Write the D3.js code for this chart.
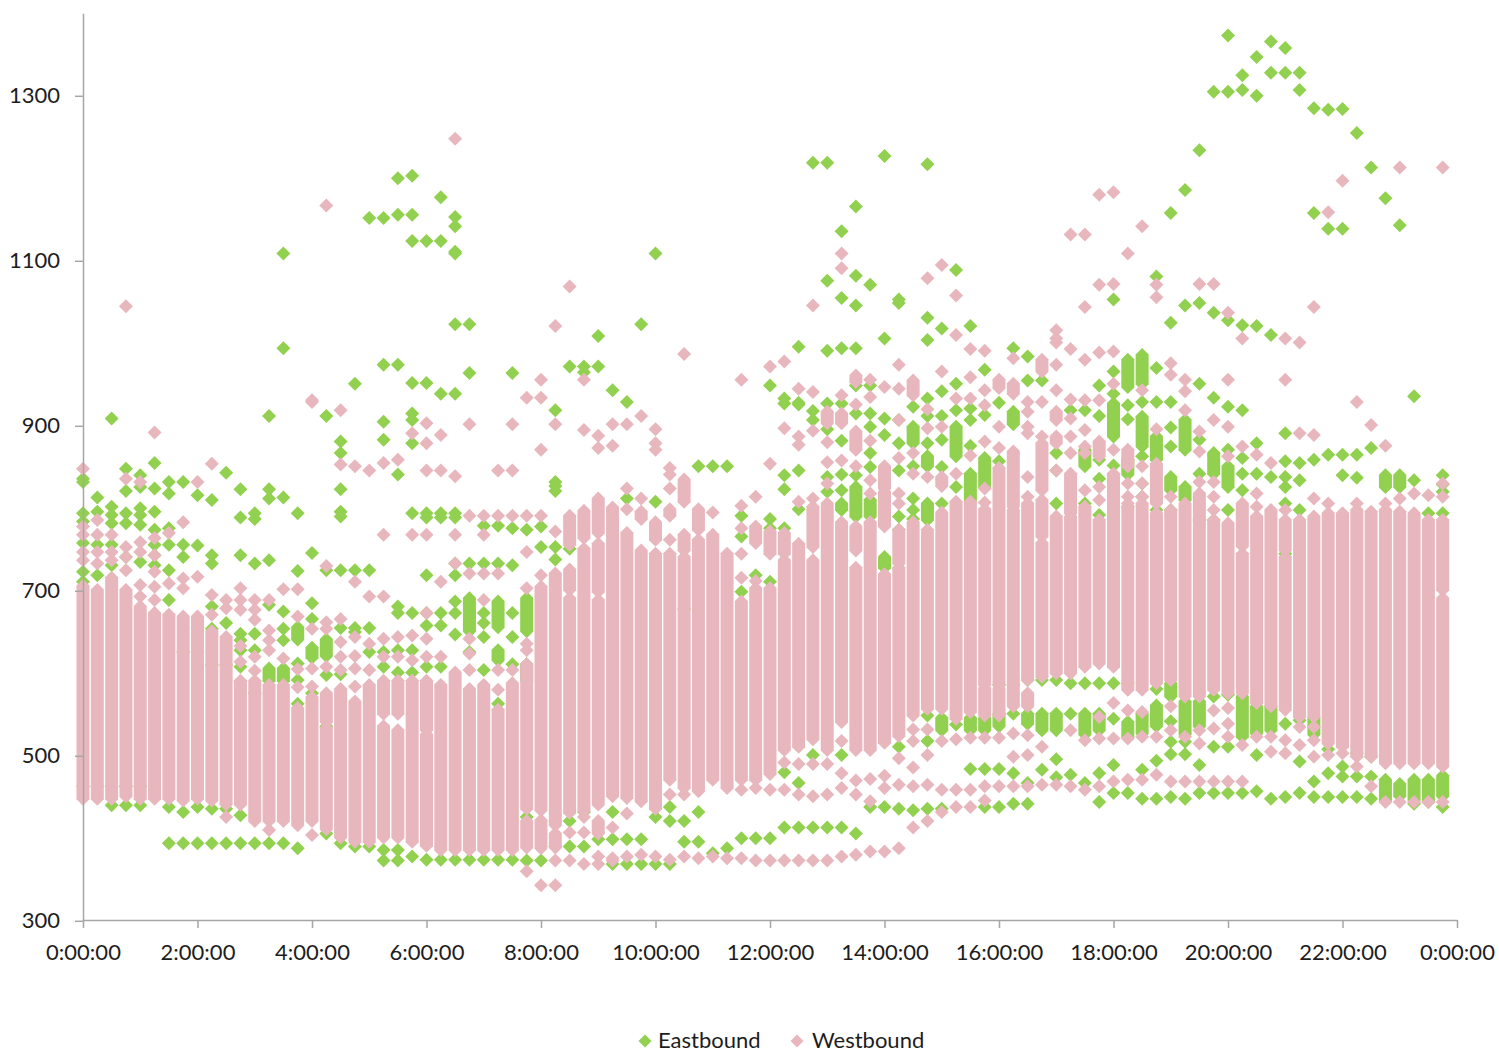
<!DOCTYPE html>
<html><head><meta charset="utf-8">
<script src="https://d3js.org/d3.v7.min.js"></script>
<style>html,body{margin:0;padding:0;background:#fff}svg{display:block}text{font-family:Lato,"Open Sans",sans-serif;fill:#1d1d1d}</style>
</head><body><svg id="c" width="1499" height="1053"></svg>
<script>
const yTicks=[300,500,700,900,1100,1300];
const xTickHours=[0,2,4,6,8,10,12,14,16,18,20,22,24];
const xTickLabels=["0:00:00","2:00:00","4:00:00","6:00:00","8:00:00","10:00:00","12:00:00","14:00:00","16:00:00","18:00:00","20:00:00","22:00:00","0:00:00"];
const seriesNames=["Eastbound","Westbound"];
// One row per 15-minute slot. A number is one readable point; a [low,high] pair is a solid run of overlapping points.
const eastbound=[
[835,831,793,783,757,722,710,462],
[812,795,755,718,462],
[908,801,791,781,755,730,462,439],
[847,820,793,781,740,462,439],
[839,825,799,791,779,734,462,439],
[854,823,795,773,755,742,730],
[831,817,775,755,724,688,437,393],
[831,755,740,625,431,393],
[815,754,655,625,437,393],
[809,742,732,680,653,609,435,393],
[842,660,609,435,393],
[822,788,742,647,639,627,607,427,393],
[793,786,732,647,627,575,393],
[911,822,811,736,682,[590,605],393],
[1108,993,812,674,653,639,[590,605],393],
[793,723,[640,655],611,591,562,387],
[745,684,665,[618,630],575],
[911,724,[620,640],597,535,405],
[880,866,822,795,789,724,654,598,393],
[950,724,654,649,389],
[1151,724,654,625,389],
[1151,973,904,882,625,607,385,372],
[1199,1155,973,840,680,672,627,600,385,372],
[1202,1155,1123,951,914,906,878,793,672,627,600,377],
[1123,951,793,788,718,672,657,607,373],
[1176,1123,938,793,788,672,657,607,373],
[1152,1141,1110,1108,1022,938,793,788,732,718,686,672,646,373],
[1022,963,732,[650,690],625,373],
[778,732,672,660,643,603,373],
[778,732,[655,686],[615,627],562,373],
[963,775,730,672,643,610,373],
[773,[650,690],[590,610],425,372],
[777,752,372],
[918,831,826,820,752,737,420,389],
[971,750,420,389],
[971,964,431,389],
[1008,971,398],
[942,431,398,368],
[928,811,398,368],
[1022,398,368],
[1108,807,425,368],
[437,420,368],
[677,420,395],
[850,431,395],
[850,381],
[850,387],
[790,765,698,399],
[718,399],
[948,786,775,710,399],
[932,926,839,822,775,479,412],
[995,927,925,845,798,466,412],
[1218,917,906,500,412],
[1218,1075,990,926,895,837,819,412],
[1135,1054,993,926,881,840,821,[797,805],500,412],
[1165,1081,1045,993,948,914,839,[789,825],405],
[1070,948,914,898,866,849,[789,809],437],
[1226,1005,908,888,[727,740],437],
[1052,1048,906,878,845,789,773,510,435],
[922,[878,898],850,811,797,786,433],
[1216,1030,1003,932,911,878,[850,862],[785,805],548,517,435],
[1017,941,911,882,849,805,[530,545],435],
[1088,950,918,[862,898],825,537],
[1020,920,906,875,[809,841],[530,545],483],
[967,912,[825,860],[530,545],483,437],
[927,856,585,[535,550],483,437],
[993,[901,916],585,550,478,441],
[983,954,591,[538,550],466,441],
[954,591,[530,550],482],
[866,845,805,591,[530,550],495,473],
[918,587,550,476],
[918,[850,870],805,587,[525,550],466],
[948,911,858,835,791,587,[530,550],478,443],
[1052,965,938,[886,926],851,587,544,488,454],
[[946,979],924,907,[840,858],801,587,[522,540],454],
[[950,985],928,[874,910],862,829,813,[526,550],482,447],
[1080,969,928,[858,886],797,580,[535,560],493,447],
[1157,1024,928,897,874,[821,837],797,[571,587],541,516,501,449],
[1185,1045,[870,906],[809,825],[525,565],516,501,447],
[1233,1048,950,882,841,785,[535,565],488,454],
[1304,1036,933,[841,866],785,571,510,454],
[1372,1304,1027,922,870,[825,850],797,573,510,454],
[1324,1306,1021,918,860,841,821,[522,571],454],
[1346,1299,1020,878,841,[526,559],500,456],
[1365,1327,1009,837,[530,559],447],
[1357,1327,890,856,837,825,805,744,538,449],
[1327,1306,854,833,797,542,492,454],
[1284,1157,858,[525,545],468,449],
[1282,1138,864,507,478,449],
[1283,1138,864,839,486,474,449],
[1254,864,836,502,474,449],
[1212,872,498,474,447],
[1175,[825,839],[445,470]],
[1142,[825,839],[450,465]],
[935,833,[445,470],441],
[793,[445,470],443],
[839,828,819,793,[450,475],437]
];
const westbound=[
[847,777,767,746,736,[447,705]],
[785,767,746,732,[447,700]],
[767,746,736,[447,715]],
[1044,835,752,740,724,[450,700]],
[831,758,746,706,692,[447,680]],
[891,763,742,722,704,688,[447,672]],
[769,708,[447,670]],
[782,714,702,[445,668]],
[831,716,[447,668]],
[853,694,670,[445,650]],
[688,678,[440,643],425],
[702,688,676,632,613,[440,590]],
[688,676,664,619,602,[420,590]],
[688,651,639,627,[420,585],409],
[701,617,[420,585]],
[701,668,604,582,[415,557]],
[930,928,653,605,583,[420,570],403],
[1166,729,661,653,607,[540,575],[410,533]],
[918,852,665,637,619,603,[400,580]],
[850,710,643,620,605,583,[395,565]],
[845,692,635,603,[395,585]],
[854,767,692,641,619,[550,590],[400,535]],
[858,643,619,[550,590],[400,530]],
[890,767,645,615,[395,590]],
[902,878,845,767,672,641,619,[530,590],[390,525]],
[888,845,710,619,[385,585]],
[1247,838,767,732,[385,600]],
[901,790,720,641,623,603,[385,580]],
[790,767,720,688,[385,585]],
[845,790,720,603,579,[385,555]],
[901,845,790,603,[385,587]],
[933,790,746,702,635,627,[435,610],[388,420],359],
[955,933,870,790,718,[433,704],[387,421],342],
[1020,901,771,[415,720],[388,405],372,342],
[1068,[755,790],[700,725],[430,690],406,372],
[955,894,[763,796],[432,750],425,406,368],
[887,872,[769,811],[698,756],[440,688],[405,420],377,368],
[901,875,[450,800],412,375,372],
[901,823,798,[448,769],429,377],
[911,811,[786,795],[444,748],379],
[895,878,870,[761,782],[435,744],377],
[848,840,823,[790,798],761,[470,744],452,373],
[986,[807,834],[748,767],[460,740],452,377],
[[773,798],[456,761],375],
[794,[470,767],377],
[[460,744],375],
[955,802,775,744,715,[470,686],458,375],
[813,[757,777],711,[470,702],460,372],
[971,853,[744,771],[477,702],458,372],
[977,896,[744,769],[506,736],491,458,372],
[944,886,876,807,[510,756],489,452,372],
[1045,940,893,811,[752,801],[519,736],489,450,372],
[[902,916],879,855,829,[506,805],489,452,372],
[1108,1090,936,[902,914],857,[540,782],517,478,460,377],
[[952,960],925,[870,892],850,[748,777],[506,727],469,452,379],
[955,934,881,833,817,[506,782],471,444,383],
[946,[823,850],[777,819],[515,719],475,460,383],
[973,944,906,860,817,805,[732,773],[523,727],496,464,387],
[[936,954],866,841,[548,782],531,517,485,462,412],
[1078,919,896,837,[556,773],531,500,464,420],
[1094,965,898,[826,837],[556,794],517,458,431],
[1057,1009,932,841,[544,807],519,458,437],
[992,958,932,863,[552,807],521,458,437],
[990,942,924,880,823,806,[585,798],[548,581],521,462,445],
[[945,955],898,872,[585,848],[548,581],521,462],
[981,[938,950],[801,868],[559,797],526,498,462],
[928,916,898,890,837,813,[591,805],[559,575],524,500,462],
[[965,979],928,886,[821,878],[595,757],[765,809],510,464],
[1015,1005,1000,973,942,[906,916],[878,886],845,[599,789],464],
[1131,992,931,908,886,866,[793,841],[599,789],530,462],
[1131,1043,979,930,894,874,866,821,[607,801],518,458],
[1179,1070,988,930,[862,880],825,809,[611,785],546,520,462],
[1182,1071,989,950,870,[607,841],563,520,468],
[1108,[850,870],829,813,805,[579,801],554,520,470],
[1141,942,850,829,813,[579,805],552,522,470],
[1070,1055,895,[805,853],[587,793],522,476],
[975,961,813,[591,797],559,530,468],
[955,941,918,[571,805],522,468],
[1071,892,868,831,[571,817],530,514,468],
[1071,906,831,813,797,[579,785],554,532,468],
[1036,955,898,862,[575,781],557,538,522,468],
[1005,874,[753,805],[575,744],512,468],
[864,817,801,[563,789],522],
[854,[559,797],522,504],
[1005,955,797,[748,785],[555,740],518,502],
[1000,890,[546,785],534,512],
[1043,888,811,[546,789],534,518,498],
[1158,805,[514,793],500],
[1196,[510,793],502],
[928,805,[498,797],486],
[900,[498,795],462],
[875,805,[490,797],443],
[1212,811,[490,795],443],
[817,[490,793],443],
[815,[490,785],443],
[1212,829,813,[700,785],[486,690],443]
];

const x=d3.scaleLinear().domain([0,24]).range([83,1457]);
const y=d3.scaleLinear().domain([300,1400]).range([920,12.5]);
const slotHour=i=>i/4;
const svg=d3.select("#c");
const rows=(data)=>data.flatMap((r,i)=>r.map(v=>Array.isArray(v)?{i,lo:v[0],hi:v[1]}:{i,lo:v,hi:v}));
const R=7;
function runPath(d,h){
  const cx=x(slotHour(d.i)),t=y(d.hi),b=y(d.lo),p=d3.path();
  p.moveTo(cx,t-R);p.lineTo(cx+h,t-R+h);p.lineTo(cx+h,b+R-h);p.lineTo(cx,b+R);
  p.lineTo(cx-h,b+R-h);p.lineTo(cx-h,t-R+h);p.closePath();return p.toString();
}
const colors=["#92D050","#E8B7BE"];
[eastbound,westbound].forEach((data,k)=>{
  svg.append("g").attr("class",seriesNames[k]).selectAll("path").data(rows(data)).join("path")
    .attr("d",d=>runPath(d,d.lo===d.hi?R:6.5)).attr("fill",colors[k]);
});
const axisStyle=g=>{g.selectAll("path,line").attr("stroke","#A6A6A6").attr("stroke-width",1.5);g.selectAll("text").style("font-size","22px").style("font-family","Lato").attr("fill","#1d1d1d");};
svg.append("g").attr("transform","translate(0,920)")
  .call(d3.axisBottom(x).tickValues(xTickHours).tickSize(8).tickSizeOuter(0).tickPadding(16).tickFormat((d,i)=>xTickLabels[i])).call(axisStyle);
svg.append("g").attr("transform","translate(83,0.8)")
  .call(d3.axisLeft(y).tickValues(yTicks).tickSize(8).tickSizeOuter(0).tickPadding(15).tickFormat(d3.format("d"))).call(axisStyle);
const legendX=[645,797],legendTextX=[658,812];
seriesNames.forEach((n,k)=>{
  svg.append("path").attr("d","M0,-6.5L6.5,0L0,6.5L-6.5,0Z")
    .attr("transform",`translate(${legendX[k]},1041)`).attr("fill",colors[k]);
  svg.append("text").attr("x",legendTextX[k]).attr("y",1048).style("font-size","22px").text(n);
});
</script></body></html>
